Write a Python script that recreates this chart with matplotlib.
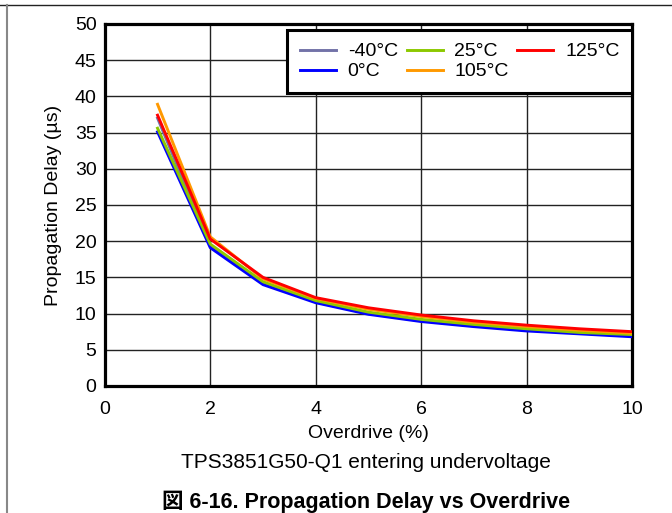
import matplotlib
matplotlib.use("Agg")
import matplotlib.pyplot as plt
from matplotlib.lines import Line2D

plt.rcParams['font.family'] = ['Liberation Sans', 'Noto Sans CJK JP', 'DejaVu Sans']

# Overdrive (%) and propagation delay (us) per temperature
overdrive = [1, 2, 3, 4, 5, 6, 7, 8, 9, 10]
delay_m40 = [37.0, 19.4, 14.2, 11.6, 10.0, 9.0, 8.3, 7.8, 7.3, 6.9]
delay_0 = [35.1, 19.1, 14.0, 11.5, 9.9, 8.9, 8.2, 7.6, 7.2, 6.8]
delay_25 = [35.6, 19.6, 14.4, 11.8, 10.2, 9.2, 8.5, 7.9, 7.4, 7.1]
delay_105 = [38.9, 20.6, 14.8, 12.1, 10.6, 9.6, 8.8, 8.2, 7.7, 7.3]
delay_125 = [37.4, 20.3, 15.0, 12.2, 10.8, 9.8, 9.0, 8.4, 7.9, 7.5]

labels = ['-40°C', '0°C', '25°C', '105°C', '125°C']
colours = ['#7272A8', '#0000FF', '#8CC800', '#FF9900', '#FF0000']
series = [delay_m40, delay_0, delay_25, delay_105, delay_125]

FS = 14

fig = plt.figure(figsize=(6.72, 5.13), dpi=100)
ax = fig.add_axes([0.156, 0.2476, 0.7845, 0.7057])

for y, lab, c in zip(series, labels, colours):
    ax.plot(overdrive, y, color=c, lw=2.1, label=lab, zorder=3)

ax.set_xlim(0, 10)
ax.set_ylim(0, 50)
ax.set_xticks([0, 2, 4, 6, 8, 10])
ax.set_yticks(range(0, 51, 5))
ax.grid(True, color='#222222', lw=1.0)
ax.set_axisbelow(True)
for s in ax.spines.values():
    s.set_linewidth(2.3)
    s.set_color('black')
ax.tick_params(length=0, labelsize=FS)
ax.tick_params(axis='y', pad=6)
ax.tick_params(axis='x', pad=11)
ax.set_xlabel('Overdrive (%)', fontsize=FS, labelpad=5)
ax.set_ylabel('Propagation Delay (µs)', fontsize=FS, labelpad=9)

leg = ax.legend(ncol=3, loc='upper right', bbox_to_anchor=(1.0, 0.983),
                borderaxespad=0, fontsize=FS, fancybox=False, framealpha=1,
                handlelength=1.85, handletextpad=0.6, columnspacing=0.45,
                labelspacing=0.12, borderpad=0.65)
leg.get_frame().set_edgecolor('black')
leg.get_frame().set_linewidth(2.2)

fig.text(0.545, 0.0975, 'TPS3851G50-Q1 entering undervoltage', ha='center', va='center', fontsize=15)
fig.text(0.545, 0.0214, '図 6-16. Propagation Delay vs Overdrive', ha='center', va='center',
         fontsize=15.5, fontweight='bold')

# page frame lines
fig.add_artist(Line2D([0, 1], [0.990, 0.990], color='#222222', lw=1.0, transform=fig.transFigure))
fig.add_artist(Line2D([0.011, 0.011], [0, 0.990], color='#888888', lw=1.5, transform=fig.transFigure))

fig.savefig('out.png', dpi=100)
